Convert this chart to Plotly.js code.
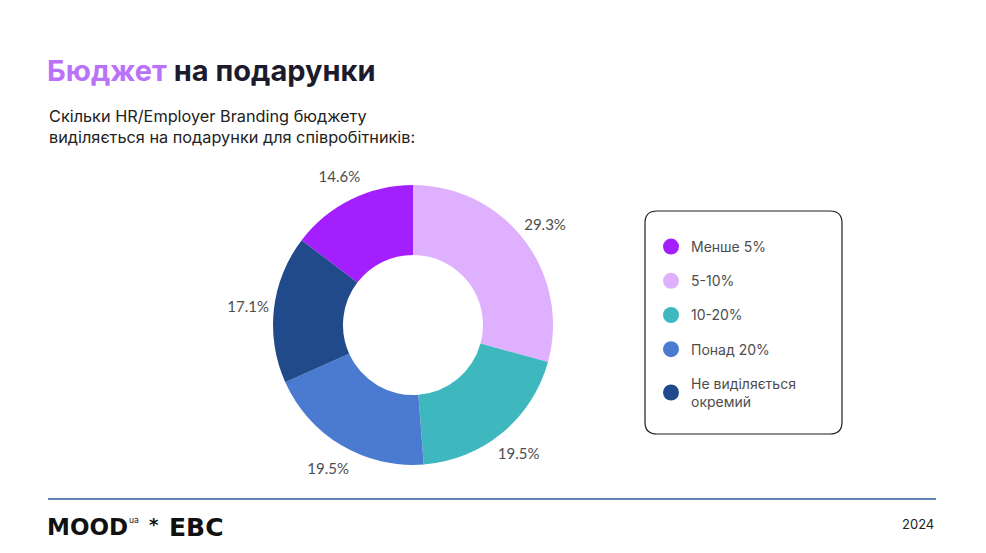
<!DOCTYPE html>
<html>
<head>
<meta charset="utf-8">
<script src="https://cdn.plot.ly/plotly-3.0.1.min.js"></script>
<style>html,body{margin:0;padding:0;background:#fff;}#chart{width:986px;height:553px;}</style>
</head>
<body>
<div id="chart"></div>
<script>
// Data
const categories = ['Менше 5%', '5-10%', '10-20%', 'Понад 20%', 'Не виділяється<br>окремий'];
const respondents = [6, 12, 8, 8, 7];
const sliceColors = ['#a41ffd', '#dfb0fd', '#3eb8be', '#4a7bd0', '#214a8b'];
const titleMain = 'Бюджет';
const titleRest = 'на подарунки';
const subtitle = 'Скільки HR/Employer Branding бюджету<br>виділяється на подарунки для співробітників:';
const yearLabel = '2024';

const W = 986, H = 553;
const px = x => x / W;
const py = y => 1 - y / H;

const total = respondents.reduce((a, b) => a + b, 0);
const startRotation = -360 * respondents[0] / total;

// geometry (pixels)
const cx = 413, cy = 325, rOuter = 140, rLabelOut = 194, rLabelIn = 138;

const pie = {
  type: 'pie',
  labels: categories,
  values: respondents,
  marker: {colors: sliceColors, line: {width: 0}},
  hole: 0.5,
  sort: false,
  direction: 'clockwise',
  rotation: startRotation,
  textinfo: 'none',
  domain: {x: [px(cx - rOuter), px(cx + rOuter)], y: [py(cy + rOuter), py(cy - rOuter)]},
  showlegend: false,
  hoverinfo: 'none'
};

// transparent ring that only carries the percentage labels around the donut
const labelRing = {
  type: 'pie',
  labels: categories,
  values: respondents,
  marker: {colors: sliceColors.map(() => 'rgba(0,0,0,0)'), line: {width: 0}},
  hole: rLabelIn / rLabelOut,
  sort: false,
  direction: 'clockwise',
  rotation: startRotation,
  textposition: 'inside',
  insidetextorientation: 'horizontal',
  texttemplate: '%{percent:.1%}',
  insidetextfont: {family: 'Lato, sans-serif', size: 15, color: '#4d4d4d'},
  domain: {x: [px(cx - rLabelOut), px(cx + rLabelOut)], y: [py(cy + rLabelOut), py(cy - rLabelOut)]},
  showlegend: false,
  hoverinfo: 'none'
};

const legendTraces = categories.map((c, i) => ({
  type: 'scatter',
  mode: 'markers',
  x: [null], y: [null],
  name: c,
  legendgroup: 'g' + i,
  marker: {color: sliceColors[i], size: 17, symbol: 'circle'},
  showlegend: true,
  hoverinfo: 'none'
}));

// rounded legend frame
function roundRect(x0, y0, x1, y1, r) {
  const X = v => px(v), Y = v => py(v);
  return `M${X(x0 + r)},${Y(y0)} L${X(x1 - r)},${Y(y0)} Q${X(x1)},${Y(y0)} ${X(x1)},${Y(y0 + r)} ` +
    `L${X(x1)},${Y(y1 - r)} Q${X(x1)},${Y(y1)} ${X(x1 - r)},${Y(y1)} ` +
    `L${X(x0 + r)},${Y(y1)} Q${X(x0)},${Y(y1)} ${X(x0)},${Y(y1 - r)} ` +
    `L${X(x0)},${Y(y0 + r)} Q${X(x0)},${Y(y0)} ${X(x0 + r)},${Y(y0)} Z`;
}

const layout = {
  width: W, height: H,
  margin: {l: 0, r: 0, t: 0, b: 0},
  paper_bgcolor: '#ffffff',
  plot_bgcolor: 'rgba(0,0,0,0)',
  font: {family: 'Inter, sans-serif', color: '#222'},
  title: {
    text: `<span style="color:#b972f9">${titleMain}</span> ${titleRest}`,
    x: px(47), xanchor: 'left', xref: 'paper',
    y: py(71), yanchor: 'middle', yref: 'container',
    font: {family: 'Inter, sans-serif', size: 29, weight: 700, color: '#1c1b2d'}
  },
  xaxis: {visible: false, range: [0, 1]},
  yaxis: {visible: false, range: [0, 1]},
  showlegend: true,
  legend: {
    x: px(651), xanchor: 'left',
    y: py(231), yanchor: 'top',
    traceorder: 'grouped',
    tracegroupgap: 13,
    bgcolor: 'rgba(0,0,0,0)',
    borderwidth: 0,
    font: {family: 'Inter, sans-serif', size: 14, color: '#4d4d4d'},
    itemclick: false, itemdoubleclick: false
  },
  shapes: [
    {type: 'path', xref: 'paper', yref: 'paper', path: roundRect(645, 211, 842, 434, 12),
     line: {color: '#1f1f1f', width: 1.2}, fillcolor: 'rgba(0,0,0,0)', layer: 'below'},
    {type: 'line', xref: 'paper', yref: 'paper', x0: px(48), x1: px(936), y0: py(499), y1: py(499),
     line: {color: '#2c5a9e', width: 1.5}}
  ],
  annotations: [
    {text: subtitle, xref: 'paper', yref: 'paper', x: px(47), y: py(104), xanchor: 'left', yanchor: 'top',
     align: 'left', showarrow: false, font: {family: 'Inter, sans-serif', size: 16.3, color: '#222'}},
    {text: yearLabel, xref: 'paper', yref: 'paper', x: px(936), y: py(524), xanchor: 'right', yanchor: 'middle',
     showarrow: false, font: {family: 'Inter, sans-serif', size: 13, color: '#222'}},
    {text: '<b>MOOD</b>', xref: 'paper', yref: 'paper', x: px(45), y: py(527),
     xanchor: 'left', yanchor: 'middle', showarrow: false,
     font: {family: 'DejaVu Sans, sans-serif', size: 23, color: '#111'}},
    {text: 'ua', xref: 'paper', yref: 'paper', x: px(127), y: py(520),
     xanchor: 'left', yanchor: 'middle', showarrow: false,
     font: {family: 'DejaVu Sans, sans-serif', size: 8, color: '#111'}},
    {text: '<b>*</b>', xref: 'paper', yref: 'paper', x: px(154), y: py(524),
     xanchor: 'center', yanchor: 'middle', showarrow: false,
     font: {family: 'DejaVu Sans, sans-serif', size: 18, color: '#111'}},
    {text: '<b>EBC</b>', xref: 'paper', yref: 'paper', x: px(167), y: py(527),
     xanchor: 'left', yanchor: 'middle', showarrow: false,
     font: {family: 'DejaVu Sans, sans-serif', size: 25, color: '#111'}}
  ]
};

Plotly.newPlot('chart', [pie, labelRing, ...legendTraces], layout, {displayModeBar: false, staticPlot: true});
</script>
</body>
</html>
